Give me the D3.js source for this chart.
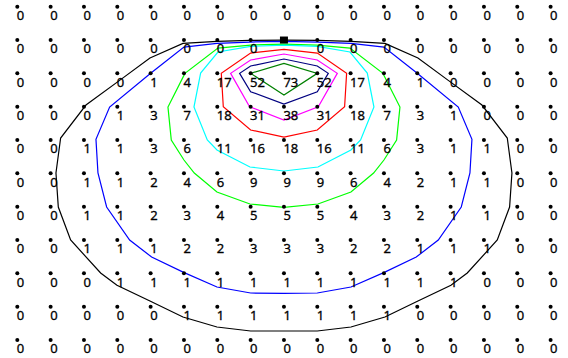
<!DOCTYPE html>
<html>
<head>
<meta charset="utf-8">
<script src="https://cdn.jsdelivr.net/npm/d3@7"></script>
<style>
  body { margin: 0; background: #fff; }
</style>
</head>
<body>
<div id="chart"></div>
<script>
const WIDTH = 568;
const HEIGHT = 358;

// grid values, one row per line (top to bottom), null = source cell
const row0 = [0, 0, 0, 0, 0, 0, 0, 0, 0, 0, 0, 0, 0, 0, 0, 0, 0];
const row1 = [0, 0, 0, 0, 0, 0, 0, 0, null, 0, 0, 0, 0, 0, 0, 0, 0];
const row2 = [0, 0, 0, 0, 1, 4, 17, 52, 73, 52, 17, 4, 1, 0, 0, 0, 0];
const row3 = [0, 0, 0, 1, 3, 7, 18, 31, 38, 31, 18, 7, 3, 1, 0, 0, 0];
const row4 = [0, 0, 1, 1, 3, 6, 11, 16, 18, 16, 11, 6, 3, 1, 1, 0, 0];
const row5 = [0, 0, 1, 1, 2, 4, 6, 9, 9, 9, 6, 4, 2, 1, 1, 0, 0];
const row6 = [0, 0, 1, 1, 2, 3, 4, 5, 5, 5, 4, 3, 2, 1, 1, 0, 0];
const row7 = [0, 0, 1, 1, 1, 2, 2, 3, 3, 3, 2, 2, 1, 1, 1, 0, 0];
const row8 = [0, 0, 0, 1, 1, 1, 1, 1, 1, 1, 1, 1, 1, 1, 0, 0, 0];
const row9 = [0, 0, 0, 0, 0, 1, 1, 1, 1, 1, 1, 1, 0, 0, 0, 0, 0];
const row10 = [0, 0, 0, 0, 0, 0, 0, 0, 0, 0, 0, 0, 0, 0, 0, 0, 0];
const rows = [row0, row1, row2, row3, row4, row5, row6, row7, row8, row9, row10];

// source position (column, row)
const source = [8, 1];

// contour lines, [column, row]
const blackLine = [[3.98, 1.54], [4.97, 1.10], [5.99, 1.04], [6.98, 1.01], [8, 1.0], [9.02, 1.01], [10.01, 1.04], [11.03, 1.10], [12.02, 1.54], [12.93, 2.21], [13.94, 2.95], [14.70, 3.94], [14.84, 4.99], [14.77, 6.01], [14.40, 7.0], [13.50, 7.99], [13.01, 8.36], [12.02, 8.83], [11.03, 9.31], [10.01, 9.61], [9.0, 9.73], [8, 9.73], [7.0, 9.73], [5.99, 9.61], [4.97, 9.31], [3.98, 8.83], [2.99, 8.36], [2.50, 7.99], [1.60, 7.0], [1.23, 6.01], [1.16, 4.99], [1.30, 3.94], [2.06, 2.95], [3.07, 2.21]];
const blueLine = [[5.0, 1.21], [5.99, 1.10], [6.98, 1.06], [8, 1.04], [9.02, 1.06], [10.01, 1.10], [11.0, 1.21], [11.99, 1.99], [13.23, 3.01], [13.64, 3.98], [13.58, 4.99], [13.32, 6.01], [12.63, 7.0], [11.97, 7.51], [11.01, 7.97], [10.01, 8.41], [9.0, 8.59], [8, 8.60], [7.0, 8.59], [5.99, 8.41], [4.99, 7.97], [4.03, 7.51], [3.37, 7.0], [2.68, 6.01], [2.42, 4.99], [2.36, 3.98], [2.77, 3.01], [4.01, 1.99]];
const greenLine = [[5.03, 2.0], [4.52, 3.01], [4.62, 4.0], [5.0, 4.60], [5.31, 4.99], [5.99, 5.56], [6.98, 5.92], [8, 6.02], [9.02, 5.92], [10.01, 5.56], [10.69, 4.99], [11.0, 4.60], [11.38, 4.0], [11.48, 3.01], [10.97, 2.0], [9.98, 1.24], [9.0, 1.15], [8, 1.12], [7.0, 1.15], [6.02, 1.24]];
const cyanLine = [[5.50, 1.99], [5.30, 3.01], [5.70, 4.0], [5.99, 4.30], [6.98, 4.81], [8, 4.93], [9.02, 4.81], [10.01, 4.30], [10.30, 4.0], [10.70, 3.01], [10.50, 1.99], [9.98, 1.36], [9.0, 1.19], [8, 1.15], [7.0, 1.19], [6.02, 1.36]];
const redLine = [[6.12, 2.0], [6.18, 3.0], [7.0, 3.70], [8, 3.91], [9.0, 3.70], [9.82, 3.0], [9.88, 2.0], [9.0, 1.39], [8, 1.28], [7.0, 1.39]];
const magentaLine = [[6.40, 2.0], [6.97, 3.0], [8, 3.40], [9.03, 3.0], [9.60, 2.0], [9.0, 1.60], [8, 1.42], [7.0, 1.60]];
const navyLine = [[6.67, 2.0], [7.0, 2.55], [8, 2.92], [9.0, 2.55], [9.33, 2.0], [9.0, 1.78], [8, 1.57], [7.0, 1.78]];
const darkGreenLine = [[7.0, 2.0], [8, 2.65], [9.0, 2.0], [8, 1.70]];

const contourLines = [blackLine, blueLine, greenLine, cyanLine, redLine, magentaLine, navyLine, darkGreenLine];
const contourColors = ['#000000', '#0000ff', '#00ff00', '#00ffff', '#ff0000', '#ff00ff', '#000080', '#008000'];

const svg = d3
  .select('#chart')
  .append('svg')
  .attr('width', WIDTH)
  .attr('height', HEIGHT);

const xScale = d3.scaleLinear().domain([0, 16]).range([17.3, 550.6]);
const yScale = d3.scaleLinear().domain([0, 10]).range([6.7, 340]);

const line = d3
  .line()
  .x(d => xScale(d[0]))
  .y(d => yScale(d[1]))
  .curve(d3.curveLinearClosed);

// contours
svg
  .append('g')
  .selectAll('path')
  .data(contourLines)
  .enter()
  .append('path')
  .attr('d', line)
  .attr('fill', 'none')
  .attr('stroke', (d, i) => contourColors[i])
  .attr('stroke-width', 1.2);

// flatten grid into points
const points = [];
rows.forEach((r, j) => {
  r.forEach((v, i) => {
    if (v !== null) points.push({ col: i, row: j, value: v });
  });
});

const pointG = svg.append('g');
pointG
  .selectAll('circle')
  .data(points)
  .enter()
  .append('circle')
  .attr('cx', d => xScale(d.col))
  .attr('cy', d => yScale(d.row))
  .attr('r', 2)
  .attr('fill', '#000');

pointG
  .selectAll('text')
  .data(points)
  .enter()
  .append('text')
  .attr('x', d => xScale(d.col) - 0.5)
  .attr('y', d => yScale(d.row) + 13.3)
  .style('font-family', 'Open Sans')
  .style('font-size', '13px')
  .attr('fill', '#000')
  .attr('stroke', '#000')
  .attr('stroke-width', 0.35)
  .text(d => d.value);

// source marker
svg
  .append('rect')
  .attr('x', xScale(source[0]) - 4)
  .attr('y', yScale(source[1]) - 3.5)
  .attr('width', 8)
  .attr('height', 7)
  .attr('fill', '#000');
</script>
</body>
</html>
